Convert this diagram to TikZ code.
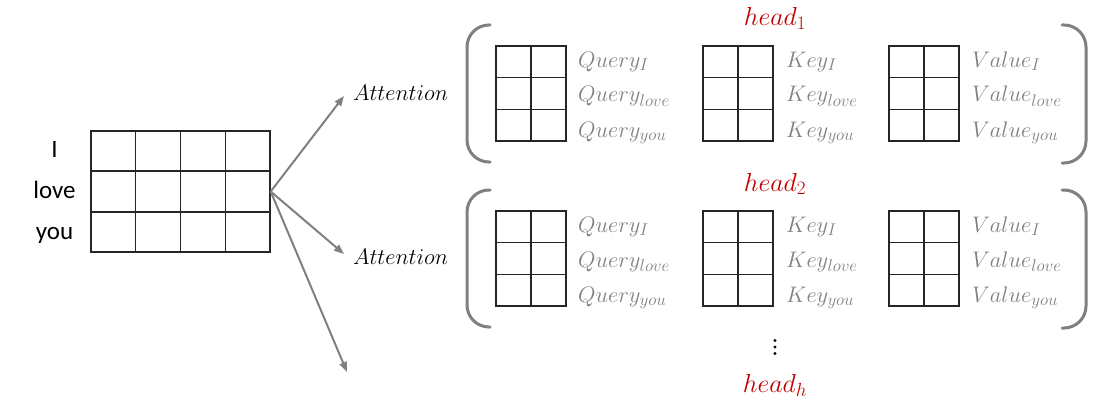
\RequirePackage{fix-cm}
\documentclass[tikz,border=0pt]{standalone}
\usepackage{fontspec}
\newfontfamily\calib{Carlito}
\usetikzlibrary{arrows.meta,calc}
\definecolor{lgrey}{RGB}{128,128,128}
\definecolor{hred}{RGB}{192,0,0}
\DeclareMathSizes{22.5}{22.5}{17}{13}
\DeclareMathSizes{26}{26}{19}{14}
\newcommand\qkvgrid[3]{%
  \node[smallmat] (#1) at (#2,#3) {};
  \draw[gridline] (#1.north) -- (#1.south);
  \draw[gridline] ($(#1.north west)!1/3!(#1.south west)$) -- ($(#1.north east)!1/3!(#1.south east)$);
  \draw[gridline] ($(#1.north west)!2/3!(#1.south west)$) -- ($(#1.north east)!2/3!(#1.south east)$);
}
\begin{document}
\begin{tikzpicture}[x=1pt,y=-1pt,
  smallmat/.style={draw=black!85, line width=1.4pt, inner sep=0pt, minimum width=70pt, minimum height=95pt},
  bigmat/.style={draw=black!85, line width=1.4pt, inner sep=0pt, minimum width=179pt, minimum height=121pt},
  gridline/.style={draw=black!85, line width=1.6pt},
  lbl/.style={anchor=base west, text=lgrey, font=\fontsize{22.5}{26}\selectfont, inner sep=0pt},
  word/.style={anchor=base, font=\calib\fontsize{25}{30}\selectfont, inner sep=0pt},
  attn/.style={anchor=base, font=\fontsize{22.5}{26}\selectfont, inner sep=0pt},
  headlbl/.style={anchor=base, text=hred, font=\fontsize{26}{30}\selectfont, inner sep=0pt},
  brace/.style={draw=lgrey, line width=3pt, line cap=round, rounded corners=22pt},
  arr/.style={draw=lgrey, line width=2pt, -{Triangle[length=10pt,width=7.5pt]}},
  dotmark/.style={circle, fill=black, inner sep=0pt, minimum size=3.2pt}
]
\useasboundingbox (0,0) rectangle (1114,412);

% input matrix
\node[bigmat] (X) at (180.5,191.5) {};
\foreach \f in {1,2,3}{
  \draw[gridline] ($(X.north west)!\f/4!(X.north east)$) -- ($(X.south west)!\f/4!(X.south east)$);
}
\foreach \f in {1,2}{
  \draw[gridline] ($(X.north west)!\f/3!(X.south west)$) -- ($(X.north east)!\f/3!(X.south east)$);
}
\node[word] (wI) at (54.5,157) {I};
\node[word] (wlove) at (54.5,198) {love};
\node[word] (wyou) at (54.5,239) {you};

% arrows
\coordinate (t1) at (344,96);
\coordinate (t2) at (344,254);
\coordinate (t3) at (347,372);
\draw[arr] (X.east) -- (t1);
\draw[arr] (X.east) -- (t2);
\draw[arr] (X.east) -- (t3);

\node[attn] (att1) at (400.5,100) {$Attention$};
\node[attn] (att2) at (400.5,264) {$Attention$};

% heads
\foreach \g/\dy in {1/0,2/165}{
  \qkvgrid{q\g}{531}{93.5+\dy}
  \qkvgrid{k\g}{738}{93.5+\dy}
  \qkvgrid{v\g}{924}{93.5+\dy}
  \node[lbl] (q\g a) at (578,67+\dy) {$Query_{I}$};
  \node[lbl] (q\g b) at (578,102+\dy) {$Query_{love}$};
  \node[lbl] (q\g c) at (578,137+\dy) {$Query_{you}$};
  \node[lbl] (k\g a) at (786,67+\dy) {$Key_{I}$};
  \node[lbl] (k\g b) at (786,102+\dy) {$Key_{love}$};
  \node[lbl] (k\g c) at (786,137+\dy) {$Key_{you}$};
  \node[lbl] (v\g a) at (972,67+\dy) {$Value_{I}$};
  \node[lbl] (v\g b) at (972,102+\dy) {$Value_{love}$};
  \node[lbl] (v\g c) at (972,137+\dy) {$Value_{you}$};
  \draw[brace] (490,25+\dy) -- (467,25+\dy) -- (467,162+\dy) -- (490,162+\dy);
  \draw[brace] (1062,25+\dy) -- (1086,25+\dy) -- (1086,163+\dy) -- (1062,163+\dy);
}

\node[headlbl] (h1) at (775,26) {$head_{1}$};
\node[headlbl] (h2) at (775,191) {$head_{2}$};
\node[headlbl] (hh) at (775,392) {$head_{h}$};

\node[dotmark] (d1) at (775,340.5) {};
\node[dotmark] (d2) at (775,347) {};
\node[dotmark] (d3) at (775,353.5) {};
\end{tikzpicture}
\end{document}
